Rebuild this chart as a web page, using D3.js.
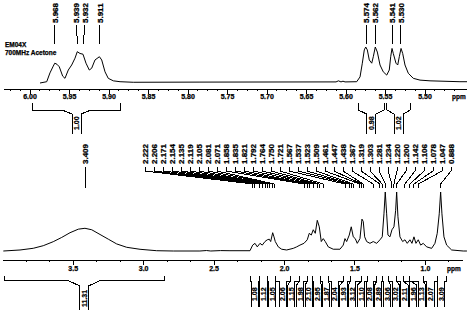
<!DOCTYPE html>
<html><head><meta charset="utf-8">
<script src="https://cdn.jsdelivr.net/npm/d3@7"></script>
<style>
html,body{margin:0;padding:0;background:#fff;}
svg{display:block;}
text{font-family:"Liberation Sans",Arial,sans-serif;font-weight:bold;fill:#000;stroke:#000;stroke-width:0.25px;}
path,line{shape-rendering:crispEdges;}
</style></head><body>
<svg id="c" width="467" height="310"></svg>
<script>
// ---------------- data ----------------
const titleLines = ["EM04X", "700MHz Acetone"];

// top panel (expanded 6.0 - 5.45 ppm): [ppm, intensity]
const topSpectrum = [[5.9867,0],[5.9782,3.6],[5.9741,28],[5.9699,47],[5.968,55],[5.9652,52],[5.9623,45],[5.958,19],[5.9551,13],[5.9509,36],[5.9466,50],[5.9424,69],[5.9395,87],[5.9361,82],[5.9323,80],[5.9285,55],[5.9243,36],[5.9213,41],[5.9171,64],[5.9115,73],[5.9086,64],[5.9044,31],[5.9003,13],[5.8939,6],[5.8854,3.6],[5.8686,2],[5.7842,2.5],[5.6196,3],[5.612,3],[5.6089,6],[5.6057,3],[5.6032,5],[5.6006,3],[5.5858,3.6],[5.5816,17],[5.5787,55],[5.5762,92],[5.5744,100],[5.5724,92],[5.5699,64],[5.5668,55],[5.5648,73],[5.5623,100],[5.5597,86],[5.5563,50],[5.5522,31],[5.5478,22],[5.5446,36],[5.5428,73],[5.5411,96],[5.5395,82],[5.5361,55],[5.5339,50],[5.5319,73],[5.5297,96],[5.5276,82],[5.5247,50],[5.5205,27],[5.5142,13],[5.5057,8],[5.493,6],[5.4551,3.6],[5.4462,3.6]];
const topPeakLabels = ["5.968","5.939","5.932","5.911","5.574","5.562","5.541","5.530"];
const topIntegralFrom = [5.996, 5.584, 5.5475];
const topIntegralTo = [5.885, 5.551, 5.518];
const topIntegralValues = ["1.00", "0.98", "1.02"];
const topTickLabels = ["6.00","5.95","5.90","5.85","5.80","5.75","5.70","5.65","5.60","5.55","5.50"];
const topAxisExtent = [6.032, 5.44];

// bottom panel (4.0 - 0.7 ppm): [ppm, intensity]
const botSpectrum = [[3.9925,0],[3.874,1.7],[3.78,4.6],[3.709,9],[3.638,15.8],[3.578,23],[3.519,31],[3.46,37],[3.413,38.5],[3.365,36],[3.306,28],[3.247,20],[3.188,12],[3.117,6.3],[3.022,2.9],[2.904,0.5],[2.786,0],[2.597,0],[2.55,0.8],[2.52,0],[2.45,0.7],[2.3836,0.5],[2.2417,0.5],[2.2225,10],[2.2062,13],[2.1899,7],[2.1707,13],[2.1544,10],[2.1352,16],[2.1189,19],[2.1047,20],[2.0947,16],[2.0805,31],[2.0713,24],[2.0621,16],[2.0408,7],[2.0167,3],[1.9812,1.7],[1.9344,4.5],[1.9102,7],[1.8868,10],[1.8584,13],[1.835,19],[1.8208,30],[1.8066,27],[1.7924,36],[1.7782,30],[1.764,52],[1.7498,41],[1.7356,16],[1.7214,21],[1.7072,16],[1.6859,7],[1.6505,3],[1.6029,3],[1.5795,10],[1.5674,21],[1.5554,16],[1.5369,27],[1.5227,41],[1.5085,24],[1.4943,21],[1.4801,13],[1.461,21],[1.4468,54],[1.4376,50],[1.4276,24],[1.4134,16],[1.39,13],[1.3666,16],[1.3424,13],[1.319,19],[1.3027,24],[1.2906,63],[1.2814,100],[1.2715,63],[1.2622,27],[1.248,24],[1.2338,36],[1.2196,41],[1.2076,69],[1.2005,100],[1.1913,58],[1.1771,24],[1.1579,16],[1.1416,19],[1.1253,13],[1.1061,19],[1.0919,13],[1.0777,24],[1.0636,13],[1.0472,19],[1.0302,10],[1.0118,13],[0.9876,7],[0.9521,4.5],[0.9287,13],[0.9124,30],[0.8982,63],[0.8883,100],[0.879,63],[0.8648,24],[0.8457,10],[0.8102,1.7],[0.7279,0],[0.7016,0]];
const botPeakLabels = ["3.409","2.222","2.206","2.171","2.154","2.135","2.119","2.105","2.081","2.071","1.858","1.835","1.821","1.792","1.764","1.750","1.721","1.567","1.537","1.523","1.509","1.461","1.447","1.438","1.367","1.319","1.303","1.281","1.234","1.220","1.200","1.142","1.106","1.078","1.047","0.888"];
const botBroadIntegral = [3.987, 2.851];
const botBroadValue = "11.31";
const botIntegralFrom = [2.237,2.176,2.116,2.057,1.953,1.887,1.835,1.797,1.740,1.686,1.580,1.527,1.449,1.409,1.342,1.300,1.260,1.200,1.154,1.106,1.012,0.912];
const botIntegralTo   = [2.176,2.116,2.057,1.953,1.887,1.835,1.797,1.740,1.686,1.580,1.527,1.449,1.409,1.342,1.300,1.260,1.200,1.154,1.106,1.012,0.912,0.845];
const botIntegralValues = ["1.08","1.12","1.05","2.06","1.15","1.98","2.10","2.95","1.87","2.04","1.93","3.12","1.10","2.08","2.89","3.06","3.02","2.11","1.96","1.13","2.07","3.09"];
const botTickLabels = ["3.5","3.0","2.5","2.0","1.5","1.0"];
const botAxisExtent = [3.995, 0.73];

// ---------------- scales ----------------
const svg = d3.select("#c");
const xTop = d3.scaleLinear().domain([6.0, 5.5]).range([29.5, 424.5]);
const yTop = d3.scaleLinear().domain([0, 100]).range([83, 47]);
const xBot = d3.scaleLinear().domain([3.5, 1.0]).range([72.7, 424.9]);
const yBot = d3.scaleLinear().domain([0, 100]).range([251, 192]);

// label spreading (cluster centering)
function spread(xs, gap, lo, hi) {
  const groups = xs.map(x => ({n: 1, sum: x}));
  const start = g => {
    let s = g.sum / g.n - (g.n - 1) * gap / 2;
    return Math.max(lo, Math.min(hi - (g.n - 1) * gap, s));
  };
  let changed = true;
  while (changed) {
    changed = false;
    for (let i = 0; i < groups.length - 1; i++) {
      const a = groups[i], b = groups[i + 1];
      if (start(a) + a.n * gap > start(b) + 1e-9) {
        a.n += b.n; a.sum += b.sum; groups.splice(i + 1, 1); changed = true; break;
      }
    }
  }
  const out = [];
  groups.forEach(g => { const s = start(g); for (let k = 0; k < g.n; k++) out.push(s + k * gap); });
  return out;
}

function vlabel(g, x, yStart, txt, size) {
  g.append("text")
    .attr("transform", `translate(${x},${yStart}) rotate(-90)`)
    .attr("dy", "0.36em")
    .style("font-size", size + "px")
    .text(txt);
}

function drawAxis(x, y, extent, labels, minorVals, pad) {
  const g = svg.append("g").attr("transform", `translate(0,${y})`);
  g.append("line").attr("x1", x(extent[0])).attr("x2", x(extent[1]))
    .attr("y1", 0.5).attr("y2", 0.5).attr("stroke", "#000");
  const major = g.append("g").call(d3.axisBottom(x).tickValues(labels.map(Number))
      .tickSize(5).tickPadding(pad).tickFormat((d, i) => labels[i]));
  const minor = g.append("g").call(d3.axisBottom(x).tickValues(minorVals).tickSize(2.5).tickFormat(""));
  [major, minor].forEach(a => { a.select(".domain").remove(); a.selectAll("line").attr("stroke", "#000"); });
  major.selectAll("text").style("font-size", "7px").attr("fill", "#000").style("font-family", null);
  return g;
}

function drawIntegral(g, x1, x2, lx, hw, c, value) {
  const l = lx - hw, r = lx + hw;
  const kl = x1 < l - c.k ? l - c.k : x1;
  const kr = x2 > r + c.k ? r + c.k : x2;
  const p = d3.path();
  p.moveTo(x1, c.y0); p.lineTo(x1, c.y1); p.lineTo(kl, c.y1); p.lineTo(l, c.y2); p.lineTo(l, c.y3);
  p.moveTo(x2, c.y0); p.lineTo(x2, c.y1); p.lineTo(kr, c.y1); p.lineTo(r, c.y2); p.lineTo(r, c.y3);
  g.append("path").attr("d", p.toString()).attr("fill", "none").attr("stroke", "#000").attr("stroke-width", 1);
  vlabel(g, lx, c.t, value, 7);
}

// ---------------- top panel ----------------
const line = (xs, ys) => d3.line().x(d => xs(d[0])).y(d => ys(d[1]));
svg.append("path").datum(topSpectrum).attr("d", line(xTop, yTop))
  .attr("fill", "none").attr("stroke", "#000").attr("stroke-width", 1).style("shape-rendering", "auto");

svg.append("text").attr("x", 5).attr("y", 47).style("font-size", "6.5px").text(titleLines[0]);
svg.append("text").attr("x", 5).attr("y", 55).style("font-size", "6.5px").text(titleLines[1]);

const topMinor = d3.range(0, 48).map(i => +(6.025 - i * 0.0125).toFixed(4)).filter(v => Math.abs(v * 20 - Math.round(v * 20)) > 1e-6);
drawAxis(xTop, 88.5, topAxisExtent, topTickLabels, topMinor, 0.5);
svg.append("text").attr("x", 452).attr("y", 98.5).style("font-size", "6.5px").text("ppm");

const tpg = svg.append("g");
const tpx = topPeakLabels.map(s => xTop(+s));
const tlx = spread(tpx, 8.5, 0, 460);
topPeakLabels.forEach((s, i) => {
  vlabel(tpg, tlx[i], 23, s, 8);
  tpg.append("path").attr("d", `M${tlx[i]},25V32L${tpx[i]},39V44`).attr("fill", "none").attr("stroke", "#000");
});

const tig = svg.append("g");
topIntegralValues.forEach((v, i) => {
  const x1 = xTop(topIntegralFrom[i]), x2 = xTop(topIntegralTo[i]);
  drawIntegral(tig, x1, x2, (x1 + x2) / 2, 4.5, {y0: 103, y1: 110, y2: 114, y3: 134, k: 10, t: 130}, v);
});

// ---------------- bottom panel ----------------
svg.append("path").datum(botSpectrum).attr("d", line(xBot, yBot))
  .attr("fill", "none").attr("stroke", "#000").attr("stroke-width", 1).style("shape-rendering", "auto");

const botMinor = d3.range(0, 21).map(i => +(4.0 - i * (0.5 / 3)).toFixed(4)).filter(v => Math.abs(v * 2 - Math.round(v * 2)) > 1e-6);
drawAxis(xBot, 259.5, botAxisExtent, botTickLabels, botMinor, 1.5);
svg.append("text").attr("x", 447).attr("y", 271).style("font-size", "6.5px").text("ppm");

const bpg = svg.append("g");
const bpx = botPeakLabels.map(s => xBot(+s));
const blx = spread(bpx, 9.0, 0, 451);
botPeakLabels.forEach((s, i) => {
  vlabel(bpg, blx[i], 164, s, 8);
  bpg.append("path").attr("d", `M${blx[i]},167V171L${bpx[i]},184V188`).attr("fill", "none").attr("stroke", "#000");
});

const big = svg.append("g");
{
  const x1 = xBot(botBroadIntegral[0]), x2 = xBot(botBroadIntegral[1]);
  drawIntegral(big, x1, x2, (x1 + x2) / 2, 4.2, {y0: 276, y1: 280, y2: 286, y3: 311, k: 13, t: 307}, botBroadValue);
}
const bic = botIntegralValues.map((v, i) => (xBot(botIntegralFrom[i]) + xBot(botIntegralTo[i])) / 2);
const bil = spread(bic, 8.7, 0, 441);
botIntegralValues.forEach((v, i) => {
  drawIntegral(big, xBot(botIntegralFrom[i]), xBot(botIntegralTo[i]), bil[i], 3.6,
    {y0: 276, y1: 281, y2: 285, y3: 307, k: 0, t: 301}, v);
});
</script>
</body></html>
